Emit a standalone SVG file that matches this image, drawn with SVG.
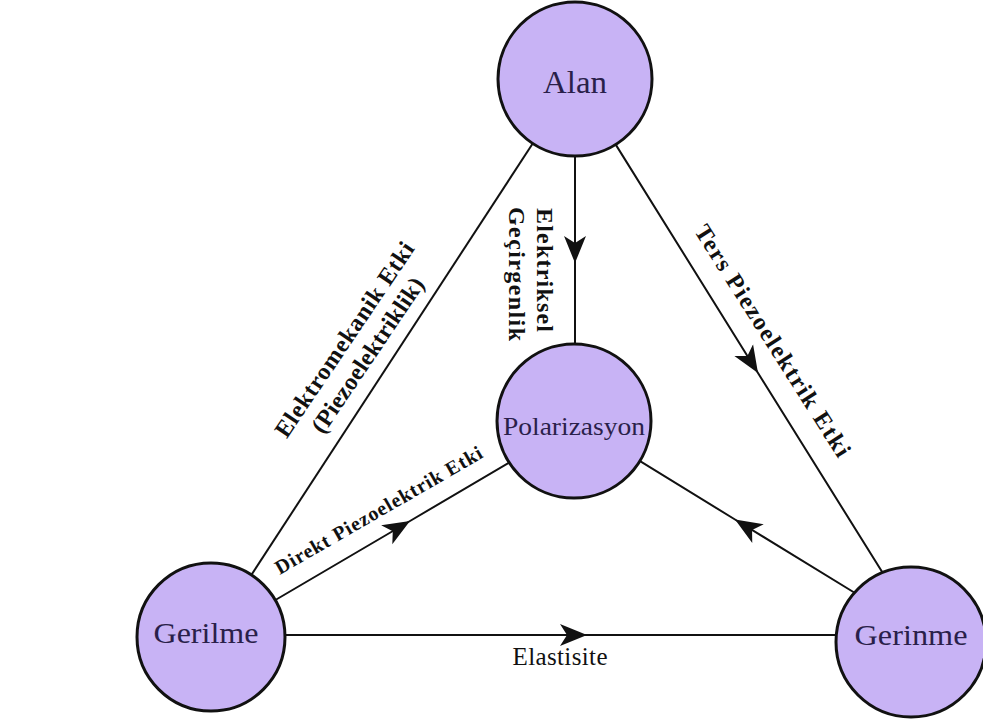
<svg xmlns="http://www.w3.org/2000/svg" width="983" height="726" viewBox="0 0 983 726">
  <style>
    .edge { fill: none; stroke: #111; stroke-width: 2; }
    .node circle { fill: #c8b3f5; stroke: #111; stroke-width: 3; }
    .node text { font-family: "Liberation Serif", "Times New Roman", serif; fill: #2a1f4a; text-anchor: middle; }
    .lbl { font-family: "Liberation Serif", "Times New Roman", serif; font-weight: bold; fill: #111; text-anchor: middle; }
    .plain { font-family: "Liberation Serif", "Times New Roman", serif; fill: #111; text-anchor: middle; }
  </style>
  <defs>
    <marker id="arr" markerUnits="userSpaceOnUse" viewBox="-27 -12 28 24" refX="0" refY="0" markerWidth="28" markerHeight="24" orient="auto">
      <path d="M0,0 L-27,-11 L-20,0 L-27,11 Z" fill="#111"/>
    </marker>
  </defs>
  <rect width="983" height="726" fill="#fff"/>
  <g id="connectors">
    <polyline class="edge" points="575,150 575,263 575,350" marker-mid="url(#arr)"/>
    <line class="edge" x1="535" y1="140" x2="250" y2="577"/>
    <polyline class="edge" points="612,138.6 758,373 885,576.5" marker-mid="url(#arr)"/>
    <polyline class="edge" points="272,602 410,521 510,462" marker-mid="url(#arr)"/>
    <polyline class="edge" points="855,593 735,519.5 636,458.7" marker-mid="url(#arr)"/>
    <polyline class="edge" points="280,635 587,635 845,635" marker-mid="url(#arr)"/>
    <g transform="translate(537,270) rotate(90)">
      <text class="lbl" x="0" y="0" font-size="24" textLength="124">Elektriksel</text>
    </g>
    <g transform="translate(509,274) rotate(90)">
      <text class="lbl" x="0" y="0" font-size="24" textLength="134">Geçirgenlik</text>
    </g>
    <g transform="translate(351,344) rotate(-56)">
      <text class="lbl" x="0" y="0" font-size="24" textLength="230">Elektromekanik Etki</text>
      <text class="lbl" x="0" y="28" font-size="24" textLength="182">(Piezoelektriklik)</text>
    </g>
    <g transform="translate(766,345) rotate(57.6)">
      <text class="lbl" x="0" y="0" font-size="24" textLength="270">Ters Piezoelektrik Etki</text>
    </g>
    <g transform="translate(382,516) rotate(-30)">
      <text class="lbl" x="0" y="0" font-size="20" textLength="236">Direkt Piezoelektrik Etki</text>
    </g>
    <text class="plain" x="560" y="665" font-size="25" textLength="95">Elastisite</text>
  </g>
  <g id="node-alan" class="node">
    <circle cx="575" cy="79" r="77"/>
    <text x="575" y="93" font-size="31" textLength="64" lengthAdjust="spacingAndGlyphs">Alan</text>
  </g>
  <g id="node-polarizasyon" class="node">
    <circle cx="574" cy="421" r="77"/>
    <text x="574" y="435" font-size="26" textLength="142" lengthAdjust="spacingAndGlyphs">Polarizasyon</text>
  </g>
  <g id="node-gerilme" class="node">
    <circle cx="211" cy="637" r="74"/>
    <text x="206" y="643" font-size="29" textLength="105" lengthAdjust="spacingAndGlyphs">Gerilme</text>
  </g>
  <g id="node-gerinme" class="node">
    <circle cx="911" cy="642" r="75"/>
    <text x="911" y="645" font-size="29" textLength="113" lengthAdjust="spacingAndGlyphs">Gerinme</text>
  </g>
</svg>
